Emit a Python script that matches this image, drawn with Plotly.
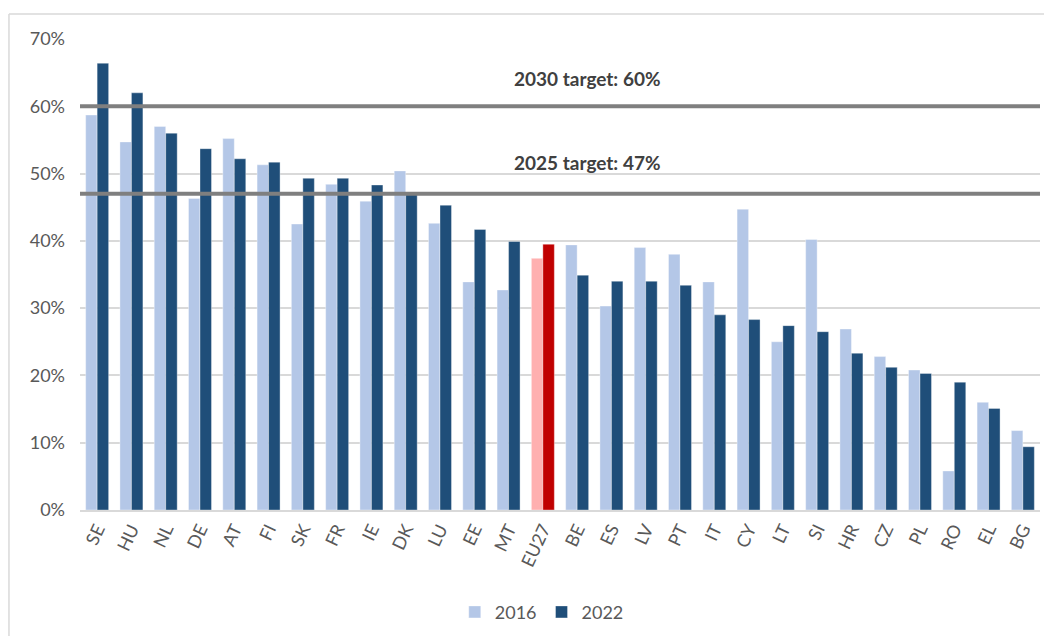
import plotly.graph_objects as go

countries = ["SE", "HU", "NL", "DE", "AT", "FI", "SK", "FR", "IE", "DK", "LU", "EE", "MT", "EU27",
             "BE", "ES", "LV", "PT", "IT", "CY", "LT", "SI", "HR", "CZ", "PL", "RO", "EL", "BG"]
values_2016 = [58.7, 54.7, 57.0, 46.3, 55.2, 51.3, 42.5, 48.4, 45.9, 50.4, 42.6, 33.9, 32.7, 37.4,
               39.4, 30.3, 39.0, 38.0, 33.9, 44.7, 25.0, 40.2, 26.9, 22.8, 20.8, 5.8, 16.0, 11.8]
values_2022 = [66.4, 62.0, 56.0, 53.7, 52.2, 51.7, 49.3, 49.3, 48.3, 47.1, 45.3, 41.7, 39.9, 39.5,
               34.9, 34.0, 34.0, 33.4, 29.0, 28.3, 27.4, 26.5, 23.3, 21.2, 20.3, 19.0, 15.1, 9.4]
targets = [60, 47]
target_labels = ["2030 target: 60%", "2025 target: 47%"]
y_ticks = [0, 10, 20, 30, 40, 50, 60, 70]

C16, C22 = "#B4C7E7", "#1F4E79"
E16, E22 = "#FFB0B0", "#C00000"
col16 = [E16 if c == "EU27" else C16 for c in countries]
col22 = [E22 if c == "EU27" else C22 for c in countries]

FONT = "Lato, 'Liberation Sans', sans-serif"
GREY_TXT = "#595959"
GRID = "#D9D9D9"

fig = go.Figure()
fig.add_bar(name="2016", x=countries, y=values_2016,
            marker=dict(color=col16, line=dict(color="rgba(255,255,255,0.6)", width=0.6)))
fig.add_bar(name="2022", x=countries, y=values_2022,
            marker=dict(color=col22, line=dict(color="rgba(255,255,255,0.6)", width=0.6)))

for t, lab, ly in zip(targets, target_labels, [64.2, 51.6]):
    fig.add_shape(type="line", xref="paper", yref="y", x0=0, x1=1, y0=t, y1=t,
                  line=dict(color="#7F7F7F", width=4), layer="above")
    fig.add_annotation(x=0.529, xref="paper", y=ly, yref="y", text=f"<b>{lab}</b>",
                       showarrow=False, font=dict(family=FONT, size=19, color="#404040"))

# outer chart border (top and left)
fig.add_shape(type="line", xref="paper", yref="paper", x0=-0.074, x1=1.03, y0=1.053, y1=1.053,
              line=dict(color=GRID, width=1.5))
fig.add_shape(type="line", xref="paper", yref="paper", x0=-0.074, x1=-0.074, y0=1.053, y1=-0.35,
              line=dict(color=GRID, width=1.5))

fig.update_layout(
    width=1044, height=628,
    margin=dict(l=72, r=12, t=31, b=126, autoexpand=False),
    paper_bgcolor="white", plot_bgcolor="white",
    barmode="group", bargap=0.33, bargroupgap=0,
    font=dict(family=FONT, size=18, color=GREY_TXT),
    showlegend=True,
    legend=dict(orientation="h", x=0.481, xanchor="center", y=-0.217, yanchor="middle",
                font=dict(family=FONT, size=18, color=GREY_TXT), traceorder="normal",
                itemwidth=30),
    xaxis=dict(tickangle=-65, showgrid=False, showline=True, linecolor=GRID, linewidth=1.5,
               ticks="", automargin=False, tickfont=dict(family=FONT, size=18, color=GREY_TXT)),
    yaxis=dict(range=[0, 70], tickvals=y_ticks, ticktext=[f"{v}%" for v in y_ticks],
               showgrid=True, gridcolor=GRID, gridwidth=1.5, zeroline=False, showline=False,
               ticks="", ticklabelstandoff=14, automargin=False,
               tickfont=dict(family=FONT, size=18, color=GREY_TXT)),
)

fig.write_html("out.html")
